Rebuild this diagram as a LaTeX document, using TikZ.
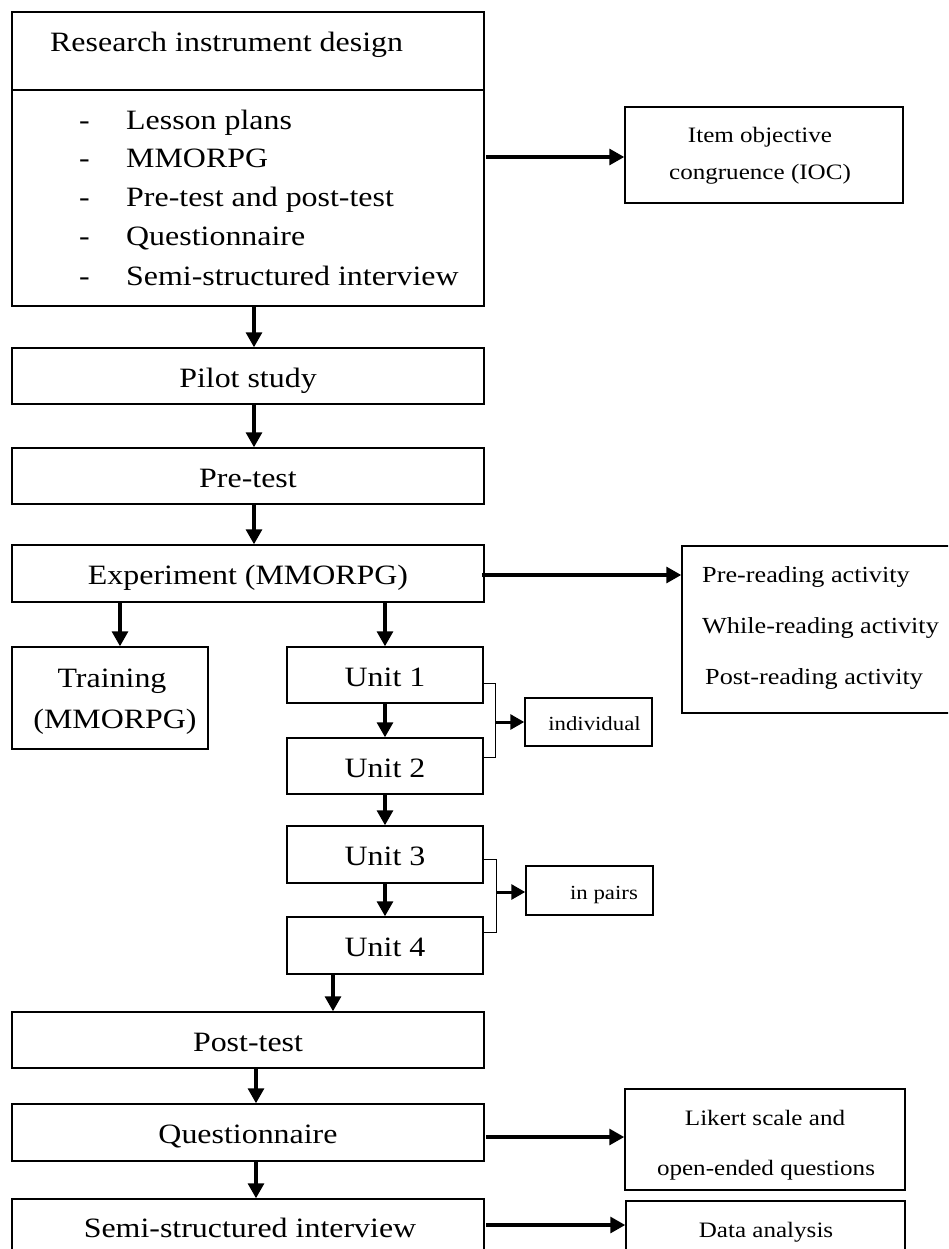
\documentclass[tikz,border=0pt]{standalone}
\usepackage{fontspec}
\setmainfont[FakeStretch=1.14]{Liberation Serif}
\usetikzlibrary{arrows.meta}
\begin{document}
\begin{tikzpicture}[x=1pt,y=-1pt,
  bx/.style={draw, line width=1.5pt, inner sep=0pt, minimum width=#1},
  mt/.style={font=\fontsize{28}{32}\selectfont, text height=22pt, text depth=0pt},
  mainf/.style={font=\fontsize{28}{32}\selectfont},
  sidef/.style={font=\fontsize{22}{26}\selectfont},
  actf/.style={font=\fontsize{23}{26}\selectfont},
  smallf/.style={font=\fontsize{20}{22}\selectfont},
  txt/.style={inner sep=0pt},
  arr/.style={line width=3.2pt, -{Triangle[length=15pt,width=16pt]}},
  sarr/.style={line width=3pt, -{Triangle[length=14pt,width=15pt]}},
  brk/.style={line width=0.9pt}]
\clip (0,0) rectangle (948,1249);
\fill[white] (0,0) rectangle (948,1249);
% column x positions
\coordinate (c1) at (254,0);
\coordinate (c2) at (120,0);
\coordinate (c3) at (385,0);
\coordinate (c4) at (333,0);
\coordinate (c5) at (256,0);
% research box
\node[bx=472pt, minimum height=294pt] (res) at (248,159) {};
\coordinate (dv) at (0,90);
\draw[line width=1.5pt] (res.west |- dv) -- (res.east |- dv);
\node[txt, mainf, anchor=base west] (rt) at (50,52) {Research instrument design};
\foreach \y/\t [count=\i] in {130/Lesson plans, 168/MMORPG, 207/Pre-test and post-test, 246/Questionnaire, 285/Semi-structured interview}{
  \node[txt, mainf, anchor=base west] (d\i) at (79,\y) {-};
  \node[txt, mainf, anchor=base west] (l\i) at (126,\y) {\t};
}
\node[bx=278pt, minimum height=96pt] (ioc) at (764,155) {};
\node[txt, sidef, anchor=base] (ioc1) at (760,143) {Item objective};
\node[txt, sidef, anchor=base] (ioc2) at (760,180) {congruence (IOC)};
% main column
\node[bx=472pt, minimum height=56pt, mt] (pilot) at (248,376) {Pilot study};
\node[bx=472pt, minimum height=56pt, mt] (pre) at (248,476) {Pre-test};
\node[bx=472pt, minimum height=57pt, mt] (exp) at (248,573.5) {Experiment (MMORPG)};
\node[bx=278pt, minimum height=167pt] (act) at (821,629.5) {};
\node[txt, actf, anchor=base west] (a1) at (702,582) {Pre-reading activity};
\node[txt, actf, anchor=base west] (a2) at (702,633) {While-reading activity};
\node[txt, actf, anchor=base west] (a3) at (705,684) {Post-reading activity};
\node[bx=196pt, minimum height=102pt] (train) at (110,698) {};
\node[txt, mainf, anchor=base] (tr1) at (112,687) {Training};
\node[txt, mainf, anchor=base] (tr2) at (115,728) {(MMORPG)};
\node[bx=196pt, minimum height=56pt, mt] (u1) at (385,675) {Unit 1};
\node[bx=196pt, minimum height=56pt, mt] (u2) at (385,766) {Unit 2};
\node[bx=196pt, minimum height=57pt, mt] (u3) at (385,854.5) {Unit 3};
\node[bx=196pt, minimum height=57pt, mt] (u4) at (385,945.5) {Unit 4};
\node[bx=127pt, minimum height=48pt] (ind) at (588.5,722) {};
\node[txt, smallf, anchor=base] (indt) at (594.5,730) {individual};
\node[bx=127pt, minimum height=49pt] (pairs) at (589.5,890.5) {};
\node[txt, smallf, anchor=base] (pairst) at (604,899) {in pairs};
\node[bx=472pt, minimum height=56pt, mt] (post) at (248,1040) {Post-test};
\node[bx=472pt, minimum height=57pt, mt] (quest) at (248,1132.5) {Questionnaire};
\node[bx=472pt, minimum height=71pt] (semi) at (248,1234.5) {};
\node[txt, mainf, anchor=base] (semit) at (250,1237) {Semi-structured interview};
\node[bx=280pt, minimum height=101pt] (lik) at (765,1139.5) {};
\node[txt, sidef, anchor=base] (lik1) at (765,1125) {Likert scale and};
\node[txt, sidef, anchor=base] (lik2) at (766,1175) {open-ended questions};
\node[bx=279pt, minimum height=69pt] (data) at (765.5,1235.5) {};
\node[txt, sidef, anchor=base] (datat) at (766,1237) {Data analysis};
% vertical arrows
\draw[arr] (res.south -| c1) -- (pilot.north -| c1);
\draw[arr] (pilot.south -| c1) -- (pre.north -| c1);
\draw[arr] (pre.south -| c1) -- (exp.north -| c1);
\draw[arr] (exp.south -| c2) -- (train.north -| c2);
\draw[arr] (exp.south -| c3) -- (u1.north -| c3);
\draw[arr] (u1.south -| c3) -- (u2.north -| c3);
\draw[arr] (u2.south -| c3) -- (u3.north -| c3);
\draw[arr] (u3.south -| c3) -- (u4.north -| c3);
\draw[arr] (u4.south -| c4) -- (post.north -| c4);
\draw[arr] (post.south -| c5) -- (quest.north -| c5);
\draw[arr] (quest.south -| c5) -- (semi.north -| c5);
% horizontal arrows
\coordinate (h1) at (486,157);
\draw[arr] (h1) -- (ioc.west |- h1);
\coordinate (h2) at (482,575);
\draw[arr] (h2) -- (act.west |- h2);
\coordinate (h3) at (486,1137);
\draw[arr] (h3) -- (lik.west |- h3);
\coordinate (h4) at (486,1225);
\draw[arr] (h4) -- (data.west |- h4);
% brackets
\coordinate (b1a) at (495,683);
\coordinate (b1b) at (495,757);
\coordinate (b1m) at (495,722);
\draw[brk] (u1.east |- b1a) -- (b1a) -- (b1b) -- (u2.east |- b1b);
\draw[sarr] (b1m) -- (ind.west |- b1m);
\coordinate (b2a) at (496,859);
\coordinate (b2b) at (496,932);
\coordinate (b2m) at (496,892);
\draw[brk] (u3.east |- b2a) -- (b2a) -- (b2b) -- (u4.east |- b2b);
\draw[sarr] (b2m) -- (pairs.west |- b2m);
\end{tikzpicture}
\end{document}
